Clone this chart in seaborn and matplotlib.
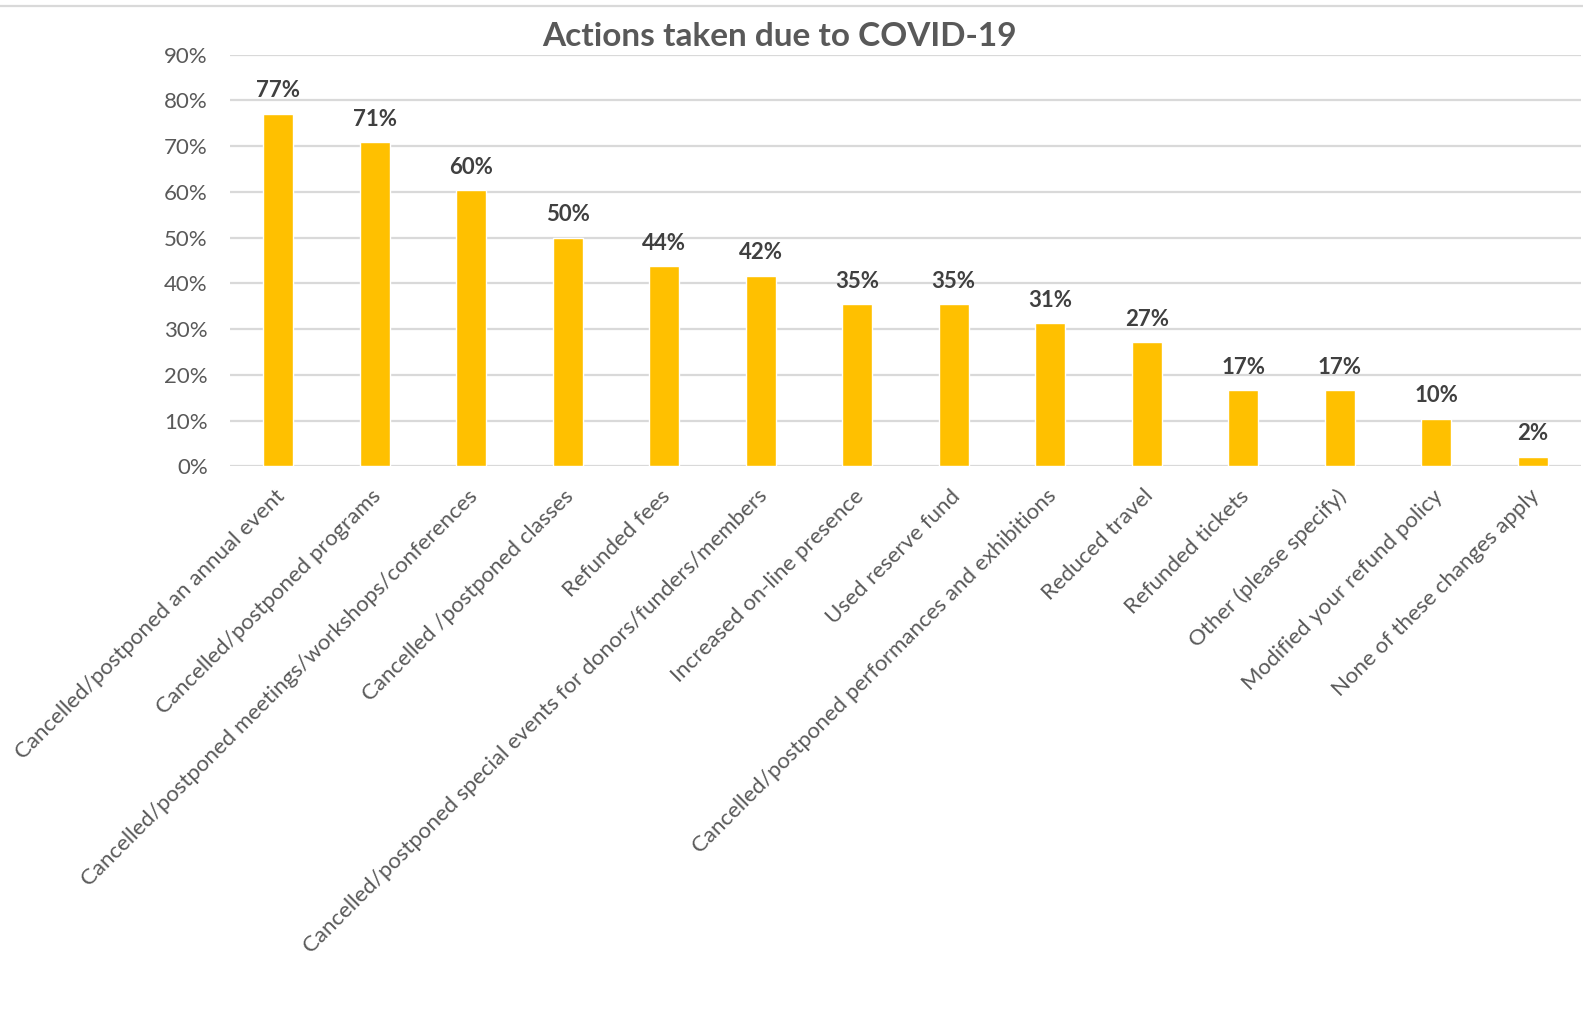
import matplotlib
matplotlib.use("Agg")
import matplotlib.pyplot as plt
import matplotlib.transforms as mtransforms
from matplotlib.lines import Line2D
import seaborn as sns
import pandas as pd

# Survey responses: share of organisations taking each action
actions = [
    "Cancelled/postponed an annual event",
    "Cancelled/postponed programs",
    "Cancelled/postponed meetings/workshops/conferences",
    "Cancelled /postponed classes",
    "Refunded fees",
    "Cancelled/postponed special events for donors/funders/members",
    "Increased on-line presence",
    "Used reserve fund",
    "Cancelled/postponed performances and exhibitions",
    "Reduced travel",
    "Refunded tickets",
    "Other (please specify)",
    "Modified your refund policy",
    "None of these changes apply",
]
shares = [0.771, 0.708, 0.604, 0.500, 0.4375, 0.417, 0.354, 0.354,
          0.3125, 0.271, 0.167, 0.167, 0.104, 0.021]
y_ticks = [0.0, 0.1, 0.2, 0.3, 0.4, 0.5, 0.6, 0.7, 0.8, 0.9]
y_tick_labels = ["0%", "10%", "20%", "30%", "40%", "50%", "60%", "70%", "80%", "90%"]

df = pd.DataFrame({"action": actions, "share": shares})

sns.set_theme(style="white")
plt.rcParams["font.family"] = ["Lato", "DejaVu Sans"]

BAR = "#FFC000"
GRID = "#D9D9D9"
TEXT = "#595959"
LABEL = "#404040"

fig = plt.figure(figsize=(15.83, 10.25), dpi=100)
ax = fig.add_axes([0.1453, 0.5449, 0.8534, 0.4019])

sns.barplot(data=df, x="action", y="share", color=BAR, saturation=1,
            width=0.31, ax=ax, zorder=3)

ax.set_ylim(0, 0.9)
ax.set_xlim(-0.5, len(actions) - 0.5)
ax.set_yticks(y_ticks)
ax.set_yticklabels(y_tick_labels)
ax.yaxis.grid(True, color=GRID, linewidth=1.6, zorder=0)
ax.set_axisbelow(True)
for s in ax.spines.values():
    s.set_visible(False)
ax.tick_params(axis="both", length=0, colors=TEXT)
ax.tick_params(axis="y", pad=16, labelsize=16)
ax.tick_params(axis="x", pad=14, labelsize=16)
ax.set_xlabel("")
ax.set_ylabel("")

# Slanted category labels, nudged slightly left
nudge = mtransforms.ScaledTranslation(-4 / 100, 0, fig.dpi_scale_trans)
for lbl in ax.get_xticklabels():
    lbl.set_rotation(45)
    lbl.set_ha("right")
    lbl.set_rotation_mode("anchor")
    lbl.set_transform(lbl.get_transform() + nudge)

# Value labels above each bar
for i, v in enumerate(shares):
    ax.annotate(f"{round(v * 100):.0f}%", xy=(i, v), xytext=(0, 23),
                textcoords="offset pixels", ha="center", va="center",
                fontsize=16, fontweight="bold", color=LABEL)

fig.text(0.4927, 1 - 37 / 1025, "Actions taken due to COVID-19", ha="center",
         va="center", fontsize=24, fontweight="bold", color=TEXT)

# Thin frame line along the top edge
fig.add_artist(Line2D([0, 1], [1 - 6 / 1025, 1 - 6 / 1025],
                      transform=fig.transFigure, color=GRID, linewidth=1.6))

fig.savefig("out.png", dpi=100, facecolor="white")
